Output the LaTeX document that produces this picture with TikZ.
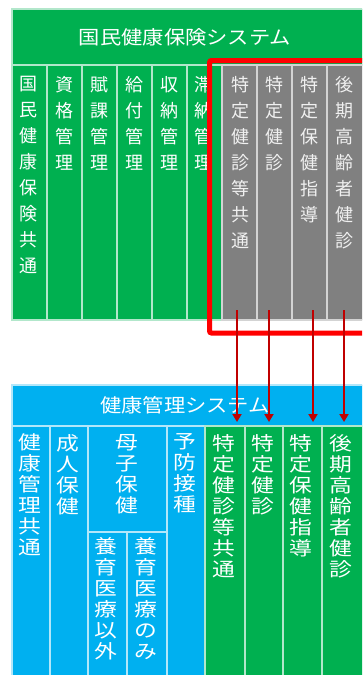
\documentclass[tikz,border=0pt]{standalone}
\usepackage{fontspec}
\usetikzlibrary{arrows.meta}
\newfontfamily\jp{Noto Sans CJK JP}
\newfontfamily\jpw[FakeStretch=1.12]{Noto Sans CJK JP}
\newfontfamily\jpb[FakeStretch=1.2]{Noto Sans CJK JP}
\definecolor{kgreen}{RGB}{0,176,80}
\definecolor{kblue}{RGB}{0,176,240}
\definecolor{kgray}{RGB}{128,128,128}
\definecolor{kred}{RGB}{255,0,0}
\definecolor{karrow}{RGB}{192,0,0}
\tikzset{
  gbox/.style={fill=kgreen, draw=white!70!kgreen, line width=1.2pt},
  bbox/.style={fill=kblue, draw=white!70!kblue, line width=1.2pt},
  ybox/.style={fill=kgray, draw=white!65!kgray, line width=1.2pt},
  ttl/.style={inner sep=0, text=white, font={\jpw\fontsize{19}{22}\selectfont}},
  vtopcol/.style={anchor=north, inner sep=0, align=center, text=white, font={\jp\fontsize{18}{26}\selectfont}},
  vtopgray/.style={vtopcol, text=white!88!kgray},
  vbotcol/.style={anchor=north, inner sep=0, align=center, text=white, font={\jpb\fontsize{19}{21}\selectfont}},
  redframe/.style={draw=kred, line width=5pt, rounded corners=2pt},
  arr/.style={draw=karrow, line width=1.8pt, -{Triangle[length=8pt,width=9pt]}}
}
\begin{document}
\begin{tikzpicture}[x=1pt,y=-1pt]
\clip (0,0) rectangle (362,675);
\fill[white] (0,0) rectangle (362,675);
% ---------- top system ----------
\path[gbox] (12,9) rectangle (366,65);
\node[ttl] (ttop) at (185,37) {国民健康保険システム};
\path[gbox] (12,65) rectangle (47,320);
\path[gbox] (47,65) rectangle (82,320);
\path[gbox] (82,65) rectangle (117,320);
\path[gbox] (117,65) rectangle (152,320);
\path[gbox] (152,65) rectangle (187,320);
\path[gbox] (187,65) rectangle (222,320);
\path[ybox] (222,65) rectangle (257,320);
\path[ybox] (257,65) rectangle (292,320);
\path[ybox] (292,65) rectangle (327,320);
\path[ybox] (327,65) rectangle (366,320);
\node[vtopcol] (t1) at (28.5,76) {国\\民\\健\\康\\保\\険\\共\\通};
\node[vtopcol] (t2) at (64,76) {資\\格\\管\\理};
\node[vtopcol] (t3) at (99,76) {賦\\課\\管\\理};
\node[vtopcol] (t4) at (134,76) {給\\付\\管\\理};
\node[vtopcol] (t5) at (169,76) {収\\納\\管\\理};
\node[vtopcol] (t6) at (203,76) {滞\\納\\管\\理};
\node[vtopgray] (t7) at (240,76) {特\\定\\健\\診\\等\\共\\通};
\node[vtopgray] (t8) at (274,76) {特\\定\\健\\診};
\node[vtopgray] (t9) at (309,76) {特\\定\\保\\健\\指\\導};
\node[vtopgray] (t10) at (344,76) {後\\期\\高\\齢\\者\\健\\診};
% red frame
\path[redframe] (209.5,60.5) rectangle (380,333);
% ---------- bottom system ----------
\path[bbox] (12,385) rectangle (366,426);
\node[ttl] (tbot) at (185,405) {健康管理システム};
\path[bbox] (12,426) rectangle (50,680);
\path[bbox] (50,426) rectangle (88,680);
\path[bbox] (88,426) rectangle (167,532);
\path[bbox] (88,532) rectangle (127,680);
\path[bbox] (127,532) rectangle (167,680);
\path[bbox] (167,426) rectangle (205,680);
\path[gbox] (205,426) rectangle (245,680);
\path[gbox] (245,426) rectangle (283,680);
\path[gbox] (283,426) rectangle (322,680);
\path[gbox] (322,426) rectangle (366,680);
\node[vbotcol] (b1) at (30,433) {健\\康\\管\\理\\共\\通};
\node[vbotcol] (b2) at (68,434) {成\\人\\保\\健};
\node[vbotcol] (b3) at (127,434) {母\\子\\保\\健};
\node[vbotcol] (b4) at (106,537) {養\\育\\医\\療\\以\\外};
\node[vbotcol] (b5) at (146,537) {養\\育\\医\\療\\の\\み};
\node[vbotcol] (b6) at (185,433) {予\\防\\接\\種};
\node[vbotcol] (b7) at (224,434) {特\\定\\健\\診\\等\\共\\通};
\node[vbotcol] (b8) at (263,434) {特\\定\\健\\診};
\node[vbotcol] (b9) at (301,434) {特\\定\\保\\健\\指\\導};
\node[vbotcol] (b10) at (341,434) {後\\期\\高\\齢\\者\\健\\診};
% ---------- arrows ----------
\coordinate (s1) at (237,310); \coordinate (e1) at (237,422);
\coordinate (s2) at (269,310); \coordinate (e2) at (269,422);
\coordinate (s3) at (313,310); \coordinate (e3) at (313,422);
\coordinate (s4) at (344,310); \coordinate (e4) at (344,422);
\draw[arr] (s1) -- (e1);
\draw[arr] (s2) -- (e2);
\draw[arr] (s3) -- (e3);
\draw[arr] (s4) -- (e4);
\end{tikzpicture}
\end{document}
